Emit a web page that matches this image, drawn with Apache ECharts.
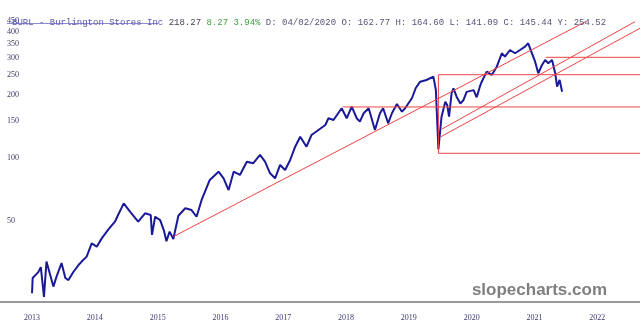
<!DOCTYPE html>
<html>
<head>
<meta charset="utf-8">
<script src="https://cdn.jsdelivr.net/npm/echarts@6/dist/echarts.min.js"></script>
<style>
  html, body { margin: 0; padding: 0; background: #fff; }
  #main { width: 640px; height: 333px; }
</style>
</head>
<body>
<div id="main"></div>
<script>
// price path (x = fractional year on the chart's own scale, y = price)
const priceYears = [
  2013.00, 2013.01, 2013.10, 2013.14, 2013.19, 2013.23, 2013.34, 2013.39, 2013.47, 2013.53,
  2013.58, 2013.66, 2013.74, 2013.79, 2013.87, 2013.95, 2014.03, 2014.11, 2014.21, 2014.32,
  2014.37, 2014.46, 2014.56, 2014.69, 2014.80, 2014.89, 2014.91, 2014.96, 2015.04, 2015.10,
  2015.14, 2015.19, 2015.25, 2015.33, 2015.44, 2015.54, 2015.62, 2015.70, 2015.83, 2015.97,
  2016.05, 2016.13, 2016.21, 2016.31, 2016.42, 2016.52, 2016.63, 2016.71, 2016.79, 2016.87,
  2016.95, 2017.03, 2017.11, 2017.19, 2017.27, 2017.37, 2017.45, 2017.56, 2017.67, 2017.72,
  2017.80, 2017.93, 2018.01, 2018.09, 2018.17, 2018.22, 2018.28, 2018.36, 2018.46, 2018.54,
  2018.59, 2018.67, 2018.73, 2018.81, 2018.89, 2018.94, 2019.05, 2019.11, 2019.18, 2019.28,
  2019.39, 2019.43, 2019.47, 2019.52, 2019.58, 2019.61, 2019.64, 2019.68, 2019.71, 2019.76,
  2019.82, 2019.87, 2019.92, 2019.95, 2020.03, 2020.08, 2020.13, 2020.16, 2020.24, 2020.32,
  2020.40, 2020.48, 2020.53, 2020.61, 2020.69, 2020.77, 2020.85, 2020.90, 2020.96, 2021.01,
  2021.06, 2021.12, 2021.17, 2021.22, 2021.28, 2021.33, 2021.36, 2021.40, 2021.44
];
const prices = [
  22.6, 26.7, 28.5, 30.1, 21.7, 32.0, 24.3, 27.1, 31.5, 26.7,
  26.1, 28.6, 30.8, 32.0, 33.8, 39.1, 37.7, 41.3, 45.3, 49.6,
  53.4, 60.7, 55.4, 49.6, 54.4, 53.4, 42.9, 52.4, 50.5, 45.0,
  40.0, 44.5, 41.0, 53.0, 57.5, 56.4, 52.4, 63.0, 78.5, 86.0,
  80.0, 70.3, 86.0, 83.0, 96.0, 94.3, 103.4, 96.0, 84.5, 80.0,
  92.6, 87.6, 97.8, 113.2, 126.4, 113.2, 128.8, 136.1, 143.8, 154.8,
  151.9, 172.8, 154.8, 175.9, 154.8, 149.1, 163.6, 172.8, 136.1, 163.6,
  172.8, 146.5, 163.6, 181.1, 166.4, 172.8, 193.5, 216.0, 231.5, 235.9,
  244.6, 211.3, 110.0, 157.5, 185.8, 179.2, 157.5, 203.8, 215.3, 196.3,
  182.0, 189.3, 207.0, 205.0, 211.0, 195.0, 219.1, 231.5, 258.5, 249.3,
  273.1, 316.4, 304.8, 328.1, 316.4, 328.1, 340.3, 353.2, 316.4, 288.5,
  254.0, 278.2, 293.9, 283.5, 293.9, 254.0, 219.1, 235.9, 207.4
];

// drawn trend / level lines
const trendFrom2015 = [[2015.25, 42.1], [2021.82, 449]];
const trendUpper2020 = [[2019.52, 137.1], [2022.60, 447.9]];
const trendLower2020 = [[2019.51, 126.4], [2022.68, 416.6]];
const level175 = [[2017.95, 175.3], [2022.68, 175.3]];
const levelBox = [[2022.68, 250], [2019.47, 250], [2019.47, 105.3], [2022.68, 105.3]];
const level300 = [[2021.18, 302.7], [2022.68, 302.7]];

const yearTicks = [2013, 2014, 2015, 2016, 2017, 2018, 2019, 2020, 2021, 2022];
const priceTicks = [50, 100, 150, 200, 250, 300, 350, 400, 450];

const chart = echarts.init(document.getElementById('main'));

const redLine = (data) => ({
  type: 'line',
  data: data,
  symbol: 'none',
  silent: true,
  z: 3,
  lineStyle: { color: '#ee4444', width: 1 }
});

chart.setOption({
  animation: false,
  backgroundColor: '#fff',
  title: {
    left: 7,
    top: 13,
    text: '{a|BURL - Burlington Stores Inc} {b|218.27} {g|8.27 3.94%} {c|D: 04/02/2020 O: 162.77 H: 164.60 L: 141.09 C: 145.44 Y: 254.52}',
    textStyle: {
      fontFamily: 'Liberation Mono',
      fontSize: 9,
      fontWeight: 'normal',
      color: '#555577',
      rich: {
        a: { fontFamily: 'Liberation Mono', fontSize: 9, color: '#5a5ab4' },
        b: { fontFamily: 'Liberation Mono', fontSize: 9, color: '#444455' },
        g: { fontFamily: 'Liberation Mono', fontSize: 9, color: '#3f9f3f' },
        c: { fontFamily: 'Liberation Mono', fontSize: 9, color: '#555577' }
      }
    }
  },
  graphic: [
    {
      type: 'line',
      shape: { x1: 7, y1: 23.5, x2: 158, y2: 23.5 },
      style: { stroke: '#8c8cd0', lineWidth: 1 },
      silent: true
    },
    {
      type: 'text',
      right: 33,
      top: 282,
      style: {
        text: 'slopecharts.com',
        font: 'bold 17px "Liberation Sans", Arial, sans-serif',
        fill: '#7f7f7f'
      },
      silent: true
    }
  ],
  grid: { left: 0, right: 0, top: 0, bottom: 31 },
  xAxis: {
    type: 'value',
    min: 2012.49,
    max: 2022.68,
    axisLine: { show: true, lineStyle: { color: '#999', width: 2 } },
    axisTick: { show: false },
    splitLine: { show: false },
    axisLabel: {
      customValues: yearTicks,
      margin: 12,
      fontFamily: 'Liberation Serif',
      fontSize: 8,
      color: '#3b3b70',
      formatter: (v) => String(v)
    }
  },
  yAxis: {
    type: 'log',
    min: 20.51,
    max: 568.6,
    axisLine: { show: false },
    axisTick: { show: false },
    splitLine: { show: false },
    axisLabel: {
      customValues: priceTicks,
      inside: true,
      margin: 7,
      fontFamily: 'Liberation Serif',
      fontSize: 8,
      color: '#3b3b60',
      formatter: (v) => String(Math.round(v))
    }
  },
  series: [
    {
      type: 'line',
      data: priceYears.map((x, i) => [x, prices[i]]),
      symbol: 'none',
      z: 2,
      lineStyle: { color: '#1a1a99', width: 2 }
    },
    redLine(trendFrom2015),
    redLine(trendUpper2020),
    redLine(trendLower2020),
    redLine(level175),
    redLine(levelBox),
    redLine(level300)
  ]
});
</script>
</body>
</html>
